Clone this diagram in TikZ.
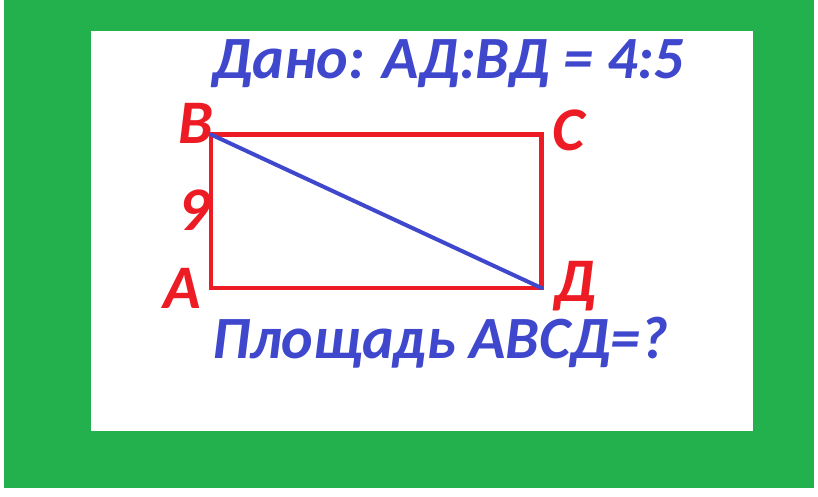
\documentclass[tikz,border=0pt]{standalone}
\usepackage{fontspec}
\setmainfont{Carlito}
\definecolor{framegreen}{HTML}{22B14C}
\definecolor{sidered}{HTML}{ED1C24}
\definecolor{textblue}{HTML}{3F48CC}

\begin{document}
\begin{tikzpicture}[x=1pt, y=-1pt,
    corner/.style={text=sidered, inner sep=0pt, font=\fontsize{62}{62}\selectfont\bfseries\itshape},
    task/.style={text=textblue, inner sep=0pt, anchor=base west, font=\fontsize{60}{60}\selectfont\bfseries\itshape}]
    \useasboundingbox (0,0) rectangle (818,497);
    \fill [framegreen] (4,0) rectangle (814,488);
    \fill [white] (91,31) rectangle (753,431);

    \coordinate (A) at (211,288);
    \coordinate (B) at (211,134.5);
    \coordinate (C) at (541.5,134.5);
    \coordinate (D) at (541.5,288);

    \draw [sidered, line width=4.5pt] (A) -- (B) -- (C) -- (D) -- cycle;
    \draw [textblue, line width=4pt, line cap=round] (B) -- (D);

    \node (labB) [corner, anchor=base east] at (213,144) {B};
    \node (labC) [corner, anchor=base west] at (552,150) {C};
    \node (labA) [corner, anchor=base east] at (201,308) {A};
    \node (labD) [corner, anchor=base west] at (554,301) {Д};
    \node (side) [corner, anchor=base east] at (210,230) {9};

    \node (given) [task] at (212,79) {Дано: АД:ВД = 4:5};
    \node (asked) [task] at (212,358) {Площадь АВСД=?};
\end{tikzpicture}
\end{document}
